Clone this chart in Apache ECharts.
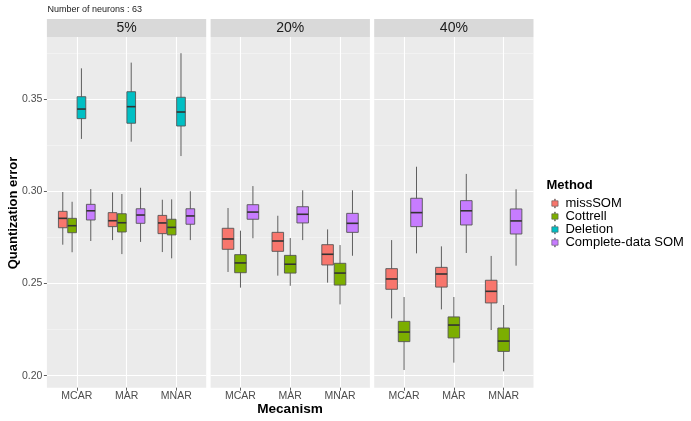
<!DOCTYPE html>
<html>
<head>
<meta charset="utf-8">
<script src="https://cdn.jsdelivr.net/npm/echarts@6/dist/echarts.min.js"></script>
<style>
html,body{margin:0;padding:0;background:#fff;}
#c{width:691px;height:421px;}
</style>
</head>
<body>
<div id="c"></div>
<script>
// ---- data: [low whisker, Q1, median, Q3, high whisker] per mechanism ----
const mechanisms = ['MCAR', 'MAR', 'MNAR'];
const facets = ['5%', '20%', '40%'];
const methods = ['missSOM', 'Cottrell', 'Deletion', 'Complete-data SOM'];
const yTicks = [0.20, 0.25, 0.30, 0.35];
const yMinorTicks = [0.225, 0.275, 0.325, 0.375];

const missSOM_5  = [[0.2711, 0.2803, 0.2854, 0.2892, 0.2997], [0.2736, 0.2809, 0.2841, 0.2885, 0.2995], [0.2671, 0.2771, 0.2829, 0.2870, 0.2955]];
const cottrell_5 = [[0.2670, 0.2776, 0.2814, 0.2854, 0.2944], [0.2660, 0.2780, 0.2830, 0.2879, 0.2986], [0.2637, 0.2764, 0.2805, 0.2849, 0.2957]];
const deletion_5 = [[0.3285, 0.3395, 0.3447, 0.3514, 0.3668], [0.3270, 0.3370, 0.3460, 0.3541, 0.3699], [0.3192, 0.3355, 0.3431, 0.3511, 0.3750]];
const complete_5 = [[0.2731, 0.2845, 0.2895, 0.2930, 0.3013], [0.2726, 0.2827, 0.2872, 0.2906, 0.3020], [0.2736, 0.2822, 0.2867, 0.2906, 0.3001]];

const missSOM_20  = [[0.2563, 0.2686, 0.2742, 0.2800, 0.2910], [0.2543, 0.2675, 0.2731, 0.2778, 0.2868], [0.2505, 0.2601, 0.2659, 0.2711, 0.2794]];
const cottrell_20 = [[0.2478, 0.2559, 0.2612, 0.2657, 0.2787], [0.2488, 0.2557, 0.2605, 0.2653, 0.2747], [0.2387, 0.2492, 0.2557, 0.2610, 0.2709]];
const complete_20 = [[0.2746, 0.2849, 0.2888, 0.2928, 0.3029], [0.2736, 0.2829, 0.2876, 0.2917, 0.3006], [0.2651, 0.2778, 0.2827, 0.2881, 0.3006]];

const missSOM_40  = [[0.2311, 0.2469, 0.2525, 0.2581, 0.2736], [0.2360, 0.2481, 0.2552, 0.2588, 0.2702], [0.2248, 0.2395, 0.2458, 0.2518, 0.2650]];
const cottrell_40 = [[0.2031, 0.2185, 0.2237, 0.2295, 0.2427], [0.2071, 0.2205, 0.2275, 0.2319, 0.2427], [0.2024, 0.2132, 0.2188, 0.2259, 0.2384]];
const complete_40 = [[0.2664, 0.2809, 0.2885, 0.2963, 0.3134], [0.2666, 0.2818, 0.2895, 0.2950, 0.3095], [0.2597, 0.2769, 0.2840, 0.2905, 0.3012]];

// facet -> list of [methodName, data]
const facetSeries = [
  [['missSOM', missSOM_5], ['Cottrell', cottrell_5], ['Deletion', deletion_5], ['Complete-data SOM', complete_5]],
  [['missSOM', missSOM_20], ['Cottrell', cottrell_20], ['Complete-data SOM', complete_20]],
  [['missSOM', missSOM_40], ['Cottrell', cottrell_40], ['Complete-data SOM', complete_40]]
];

// ---- styling ----
const colorOf = {'missSOM': '#F8766D', 'Cottrell': '#7CAE00', 'Deletion': '#00BFC4', 'Complete-data SOM': '#C77CFF'};
const FONT = 'Liberation Sans, Arial, Helvetica, sans-serif';
const panelLeft = [46.9, 210.6, 374.2];
const panelWidth = 159.3;
const panelTop = 37;
const panelHeight = 350.7;
const yMin = 0.1935, yMax = 0.3838;
const dodgeWidth = 0.75;

const grids = [], xAxes = [], yAxes = [], series = [], graphics = [];

facets.forEach((f, i) => {
  grids.push({left: panelLeft[i], top: panelTop, width: panelWidth, height: panelHeight,
    show: true, backgroundColor: '#EBEBEB', borderWidth: 0, containLabel: false});
  xAxes.push({
    type: 'value', gridIndex: i, min: 0.4, max: 3.6,
    axisLine: {show: false},
    axisTick: {show: true, length: 3, customValues: [1, 2, 3], lineStyle: {color: '#333', width: 0.8}},
    axisLabel: {show: true, customValues: [1, 2, 3], margin: 2.5, color: '#4D4D4D', fontSize: 10.5, fontFamily: FONT,
      formatter: v => mechanisms[Math.round(v) - 1]},
    splitLine: {show: true, lineStyle: {color: '#FFFFFF', width: 1.1}}
  });
  yAxes.push({
    type: 'value', gridIndex: i, min: yMin, max: yMax,
    axisLine: {show: false},
    axisTick: {show: i === 0, length: 3, customValues: yTicks, lineStyle: {color: '#333', width: 0.8}},
    axisLabel: {show: i === 0, customValues: yTicks, margin: 4.5, color: '#4D4D4D', fontSize: 10.5, fontFamily: FONT,
      formatter: v => v.toFixed(2)},
    splitLine: {show: true, lineStyle: {color: '#FFFFFF', width: 1.1}}
  });
  // minor grid lines
  yAxes.push({
    type: 'value', gridIndex: i, min: yMin, max: yMax, position: 'right',
    axisLine: {show: false},
    axisTick: {show: true, length: 0, customValues: yMinorTicks, lineStyle: {color: '#F7F7F7', width: 0.6}},
    axisLabel: {show: false, customValues: yMinorTicks},
    splitLine: {show: true, lineStyle: {color: '#F7F7F7', width: 0.6}}
  });

  const list = facetSeries[i];
  const n = list.length;
  const slot = dodgeWidth / n;
  const bw = slot * 0.93;
  list.forEach(([name, vals], k) => {
    const off = (k - (n - 1) / 2) * slot;
    const data = vals.map((v, c) => [c + 1 + off].concat(v));
    series.push({
      type: 'custom', name: name, xAxisIndex: i, yAxisIndex: i * 2,
      itemStyle: {color: colorOf[name]},
      encode: {x: 0, y: [1, 2, 3, 4, 5]},
      data: data,
      z: 5,
      renderItem: (params, api) => {
        const x = api.value(0);
        const lo = api.coord([x, api.value(1)]);
        const hi = api.coord([x, api.value(5)]);
        const tl = api.coord([x - bw / 2, api.value(4)]);
        const br = api.coord([x + bw / 2, api.value(2)]);
        const ml = api.coord([x - bw / 2, api.value(3)]);
        const mr = api.coord([x + bw / 2, api.value(3)]);
        return {type: 'group', children: [
          {type: 'line', shape: {x1: hi[0], y1: hi[1], x2: lo[0], y2: lo[1]}, style: {stroke: '#5f5f5f', lineWidth: 1}},
          {type: 'rect', shape: {x: tl[0], y: tl[1], width: br[0] - tl[0], height: br[1] - tl[1]},
            style: {fill: colorOf[name], stroke: '#555555', lineWidth: 0.9}},
          {type: 'line', shape: {x1: ml[0], y1: ml[1], x2: mr[0], y2: mr[1]}, style: {stroke: '#333333', lineWidth: 1.6}}
        ]};
      }
    });
  });

  // facet strip
  graphics.push({type: 'rect', left: panelLeft[i], top: 19, shape: {width: panelWidth, height: 18}, style: {fill: '#D9D9D9'}, z: 1});
  graphics.push({type: 'text', x: panelLeft[i] + panelWidth / 2, y: 28,
    style: {text: f, fill: '#1A1A1A', font: '14px ' + FONT, textAlign: 'center', textVerticalAlign: 'middle'}, z: 2});
});

// titles & annotations
graphics.push({type: 'text', x: 47.5, y: 10, style: {text: 'Number of neurons : 63', fill: '#1A1A1A', font: '9px ' + FONT, textAlign: 'left', textVerticalAlign: 'middle'}});
graphics.push({type: 'text', x: 290, y: 409, style: {text: 'Mecanism', fill: '#000', font: 'bold 13.6px ' + FONT, textAlign: 'center', textVerticalAlign: 'middle'}});
graphics.push({type: 'text', x: 13.5, y: 213, rotation: Math.PI / 2, style: {text: 'Quantization error', fill: '#000', font: 'bold 13px ' + FONT, textAlign: 'center', textVerticalAlign: 'middle'}});
graphics.push({type: 'text', x: 546.5, y: 185, style: {text: 'Method', fill: '#000', font: 'bold 13px ' + FONT, textAlign: 'left', textVerticalAlign: 'middle'}});

const chart = echarts.init(document.getElementById('c'), null, {renderer: 'canvas'});
chart.setOption({
  animation: false,
  backgroundColor: '#FFFFFF',
  color: methods.map(m => colorOf[m]),
  grid: grids,
  xAxis: xAxes,
  yAxis: yAxes,
  legend: {
    data: methods, orient: 'vertical', left: 546.5, top: 192,
    itemWidth: 7, itemHeight: 9, itemGap: 0,
    icon: 'path://M3.1,0H3.9V2H7V8H3.9V10H3.1V8H0V2H3.1Z',
    itemStyle: {borderColor: '#555', borderWidth: 0.6},
    textStyle: {fontSize: 13, fontFamily: FONT, color: '#000', lineHeight: 11.8, padding: [0, 0, 0, 2]},
    selectedMode: false
  },
  graphic: graphics,
  series: series
});
</script>
</body>
</html>
